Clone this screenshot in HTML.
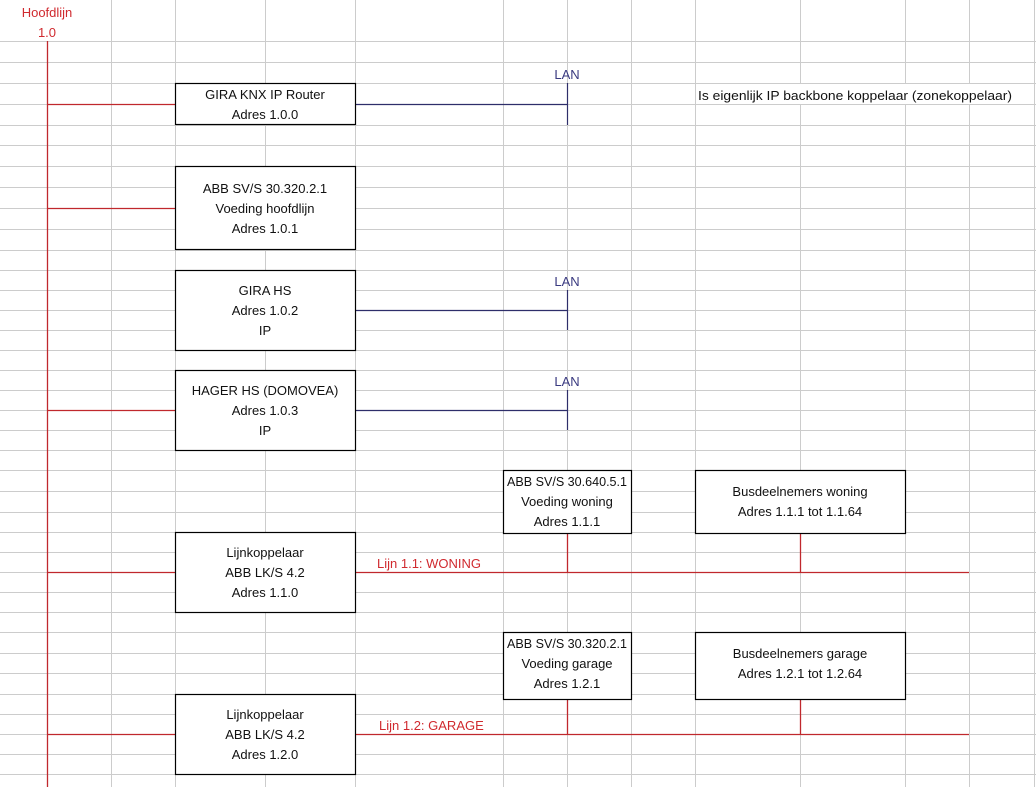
<!DOCTYPE html>
<html><head><meta charset="utf-8"><style>
html,body{margin:0;padding:0;background:#fff;width:1036px;height:787px;overflow:hidden}
svg{display:block}
text{font-family:"Liberation Sans",sans-serif;font-size:13px}
</style></head><body>
<svg width="1036" height="787" viewBox="0 0 1036 787" xmlns="http://www.w3.org/2000/svg">
<g stroke="#cccccc" stroke-width="1">
<line x1="111.5" y1="0" x2="111.5" y2="787"/>
<line x1="175.5" y1="0" x2="175.5" y2="787"/>
<line x1="265.5" y1="0" x2="265.5" y2="787"/>
<line x1="355.5" y1="0" x2="355.5" y2="787"/>
<line x1="503.5" y1="0" x2="503.5" y2="787"/>
<line x1="567.5" y1="0" x2="567.5" y2="787"/>
<line x1="631.5" y1="0" x2="631.5" y2="787"/>
<line x1="695.5" y1="0" x2="695.5" y2="787"/>
<line x1="800.5" y1="0" x2="800.5" y2="787"/>
<line x1="905.5" y1="0" x2="905.5" y2="787"/>
<line x1="969.5" y1="0" x2="969.5" y2="787"/>
<line x1="1034.5" y1="0" x2="1034.5" y2="787"/>
<line x1="0" y1="41.5" x2="1036" y2="41.5"/>
<line x1="0" y1="62.5" x2="1036" y2="62.5"/>
<line x1="0" y1="83.5" x2="1036" y2="83.5"/>
<line x1="0" y1="104.5" x2="1036" y2="104.5"/>
<line x1="0" y1="125.5" x2="1036" y2="125.5"/>
<line x1="0" y1="145.5" x2="1036" y2="145.5"/>
<line x1="0" y1="166.5" x2="1036" y2="166.5"/>
<line x1="0" y1="187.5" x2="1036" y2="187.5"/>
<line x1="0" y1="208.5" x2="1036" y2="208.5"/>
<line x1="0" y1="229.5" x2="1036" y2="229.5"/>
<line x1="0" y1="250.5" x2="1036" y2="250.5"/>
<line x1="0" y1="270.5" x2="1036" y2="270.5"/>
<line x1="0" y1="290.5" x2="1036" y2="290.5"/>
<line x1="0" y1="310.5" x2="1036" y2="310.5"/>
<line x1="0" y1="330.5" x2="1036" y2="330.5"/>
<line x1="0" y1="350.5" x2="1036" y2="350.5"/>
<line x1="0" y1="370.5" x2="1036" y2="370.5"/>
<line x1="0" y1="390.5" x2="1036" y2="390.5"/>
<line x1="0" y1="410.5" x2="1036" y2="410.5"/>
<line x1="0" y1="430.5" x2="1036" y2="430.5"/>
<line x1="0" y1="450.5" x2="1036" y2="450.5"/>
<line x1="0" y1="470.5" x2="1036" y2="470.5"/>
<line x1="0" y1="491.5" x2="1036" y2="491.5"/>
<line x1="0" y1="512.5" x2="1036" y2="512.5"/>
<line x1="0" y1="532.5" x2="1036" y2="532.5"/>
<line x1="0" y1="552.5" x2="1036" y2="552.5"/>
<line x1="0" y1="572.5" x2="1036" y2="572.5"/>
<line x1="0" y1="592.5" x2="1036" y2="592.5"/>
<line x1="0" y1="612.5" x2="1036" y2="612.5"/>
<line x1="0" y1="632.5" x2="1036" y2="632.5"/>
<line x1="0" y1="653.5" x2="1036" y2="653.5"/>
<line x1="0" y1="673.5" x2="1036" y2="673.5"/>
<line x1="0" y1="694.5" x2="1036" y2="694.5"/>
<line x1="0" y1="714.5" x2="1036" y2="714.5"/>
<line x1="0" y1="734.5" x2="1036" y2="734.5"/>
<line x1="0" y1="754.5" x2="1036" y2="754.5"/>
<line x1="0" y1="774.5" x2="1036" y2="774.5"/>
</g>
<rect x="696" y="84" width="330" height="20" fill="#fff"/>
<rect x="0" y="0" width="110" height="41" fill="#fff"/>
<rect x="356" y="553" width="147" height="19" fill="#fff"/>
<rect x="356" y="715" width="147" height="19" fill="#fff"/>

<g stroke="#c0282d" stroke-width="1.3" fill="none">
<line x1="47.5" y1="41" x2="47.5" y2="787"/>
<line x1="47" y1="104.5" x2="175" y2="104.5"/>
<line x1="47" y1="208.5" x2="175" y2="208.5"/>
<line x1="47" y1="410.5" x2="175" y2="410.5"/>
<line x1="47" y1="572.5" x2="969" y2="572.5"/>
<line x1="47" y1="734.5" x2="969" y2="734.5"/>
<line x1="567.5" y1="534" x2="567.5" y2="572"/>
<line x1="800.5" y1="534" x2="800.5" y2="572"/>
<line x1="567.5" y1="700" x2="567.5" y2="734"/>
<line x1="800.5" y1="700" x2="800.5" y2="734"/>
</g>
<g stroke="#2e2e6a" stroke-width="1.2" fill="none">
<line x1="355" y1="104.5" x2="567.5" y2="104.5"/>
<line x1="567.5" y1="83" x2="567.5" y2="125"/>
<line x1="355" y1="310.5" x2="567.5" y2="310.5"/>
<line x1="567.5" y1="290" x2="567.5" y2="330"/>
<line x1="355" y1="410.5" x2="567.5" y2="410.5"/>
<line x1="567.5" y1="390" x2="567.5" y2="430"/>
</g>
<g fill="#fff" stroke="#000" stroke-width="1.2">
<rect x="175.5" y="83.5" width="180" height="41"/>
<rect x="175.5" y="166.5" width="180" height="83"/>
<rect x="175.5" y="270.5" width="180" height="80"/>
<rect x="175.5" y="370.5" width="180" height="80"/>
<rect x="503.5" y="470.5" width="128" height="63"/>
<rect x="695.5" y="470.5" width="210" height="63"/>
<rect x="175.5" y="532.5" width="180" height="80"/>
<rect x="503.5" y="632.5" width="128" height="67"/>
<rect x="695.5" y="632.5" width="210" height="67"/>
<rect x="175.5" y="694.5" width="180" height="80"/>
</g>
<g fill="#111" text-anchor="middle">
<text x="265" y="99">GIRA KNX IP Router</text>
<text x="265" y="119">Adres 1.0.0</text>
<text x="265" y="193">ABB SV/S 30.320.2.1</text>
<text x="265" y="213">Voeding hoofdlijn</text>
<text x="265" y="233">Adres 1.0.1</text>
<text x="265" y="295">GIRA HS</text>
<text x="265" y="315">Adres 1.0.2</text>
<text x="265" y="335">IP</text>
<text x="265" y="395">HAGER HS (DOMOVEA)</text>
<text x="265" y="415">Adres 1.0.3</text>
<text x="265" y="435">IP</text>
<text x="567" y="486" textLength="120" lengthAdjust="spacingAndGlyphs">ABB SV/S 30.640.5.1</text>
<text x="567" y="506">Voeding woning</text>
<text x="567" y="526">Adres 1.1.1</text>
<text x="800" y="496">Busdeelnemers woning</text>
<text x="800" y="516">Adres 1.1.1 tot 1.1.64</text>
<text x="265" y="557">Lijnkoppelaar</text>
<text x="265" y="577">ABB LK/S 4.2</text>
<text x="265" y="597">Adres 1.1.0</text>
<text x="567" y="648" textLength="120" lengthAdjust="spacingAndGlyphs">ABB SV/S 30.320.2.1</text>
<text x="567" y="668">Voeding garage</text>
<text x="567" y="688">Adres 1.2.1</text>
<text x="800" y="658">Busdeelnemers garage</text>
<text x="800" y="678">Adres 1.2.1 tot 1.2.64</text>
<text x="265" y="719">Lijnkoppelaar</text>
<text x="265" y="739">ABB LK/S 4.2</text>
<text x="265" y="759">Adres 1.2.0</text>
</g>
<text x="698" y="100" fill="#111" textLength="314" lengthAdjust="spacingAndGlyphs">Is eigenlijk IP backbone koppelaar (zonekoppelaar)</text>
<g fill="#3a3a80" text-anchor="middle">
<text x="567" y="79">LAN</text>
<text x="567" y="286">LAN</text>
<text x="567" y="386">LAN</text>
</g>
<g fill="#d02a2f">
<text x="47" y="17" text-anchor="middle">Hoofdlijn</text>
<text x="47" y="37" text-anchor="middle">1.0</text>
<text x="377" y="568">Lijn 1.1: WONING</text>
<text x="379" y="730">Lijn 1.2: GARAGE</text>
</g>
</svg>
</body></html>
